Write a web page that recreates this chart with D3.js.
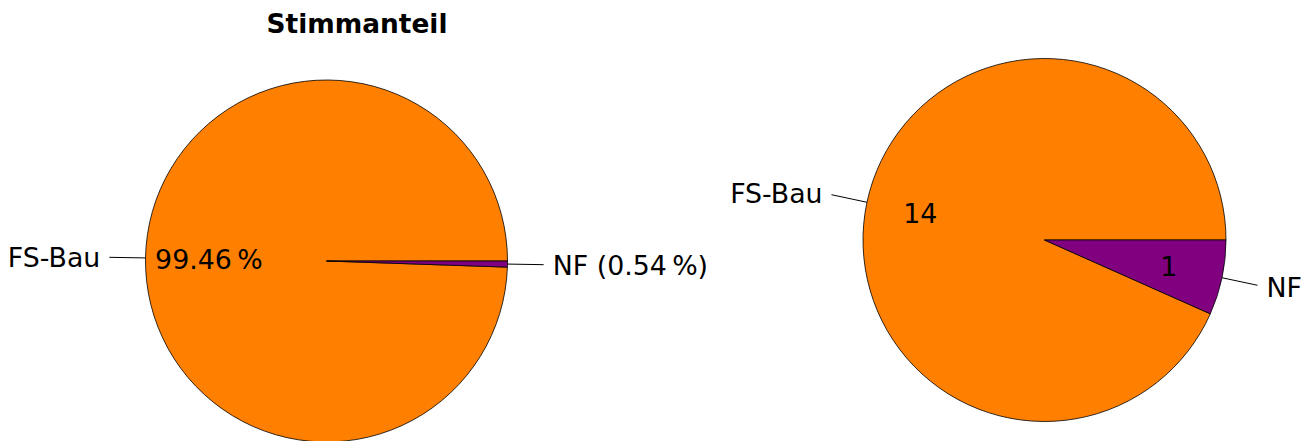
<!DOCTYPE html>
<html><head><meta charset="utf-8">
<script src="https://cdn.jsdelivr.net/npm/d3@7"></script>
<style>body{margin:0;background:#fff}svg{display:block}text{font-family:"DejaVu Sans",sans-serif}</style>
</head><body>
<svg id="c" width="1314" height="441"></svg>
<script>
const categories = ["FS-Bau", "NF"];
const voteShare = [99.46, 0.54];
const seats = [14, 1];
const colors = ["#ff7f00", "#800080"];
const title = "Stimmanteil";

const svg = d3.select("#c");
const fs = 26.8;

function drawPie(cx, cy, r, values, labelFn, pctFn, pctDist) {
  const pie = d3.pie().sort(null).startAngle(Math.PI / 2).endAngle(Math.PI / 2 - 2 * Math.PI);
  const arcs = pie(values);
  const arc = d3.arc().innerRadius(0).outerRadius(r);
  const g = svg.append("g").attr("transform", `translate(${cx},${cy})`);
  g.selectAll("path.w").data(arcs).join("path")
    .attr("d", arc).attr("fill", (d, i) => colors[i])
    .attr("stroke", "#000").attr("stroke-width", 0.8).attr("stroke-linejoin", "round");
  const pt = (a, R) => [R * Math.sin(a), -R * Math.cos(a)];
  arcs.forEach((d, i) => {
    const a = (d.startAngle + d.endAngle) / 2;
    const p0 = pt(a, r), p1 = pt(a, 1.2 * r), pl = pt(a, 1.25 * r);
    g.append("line").attr("x1", p0[0]).attr("y1", p0[1]).attr("x2", p1[0]).attr("y2", p1[1])
      .attr("stroke", "#000").attr("stroke-width", 1);
    g.append("text").attr("x", pl[0]).attr("y", pl[1] + 0.365 * fs)
      .attr("text-anchor", pl[0] < 0 ? "end" : "start").attr("font-size", fs)
      .text(labelFn(i));
    const t = pctFn(i);
    if (t !== null) {
      const pp = pt(a, pctDist * r);
      g.append("text").attr("x", pp[0]).attr("y", pp[1] + 0.365 * fs)
        .attr("text-anchor", "middle").attr("font-size", fs).text(t);
    }
  });
}

// left: vote share
drawPie(326.5, 261, 181, voteShare,
  i => i === 0 ? categories[i] : `${categories[i]} (${voteShare[i].toFixed(2)}\u2009%)`,
  i => i === 0 ? `${voteShare[i].toFixed(2)}\u2009%` : null, 0.65);

svg.append("text").attr("x", 357).attr("y", 33).attr("text-anchor", "middle")
  .attr("font-size", 26.4).attr("font-weight", "bold").text(title);

// right: seats
drawPie(1044.5, 240, 181.5, seats,
  i => categories[i],
  i => String(seats[i]), 0.7);
</script>
</body></html>
